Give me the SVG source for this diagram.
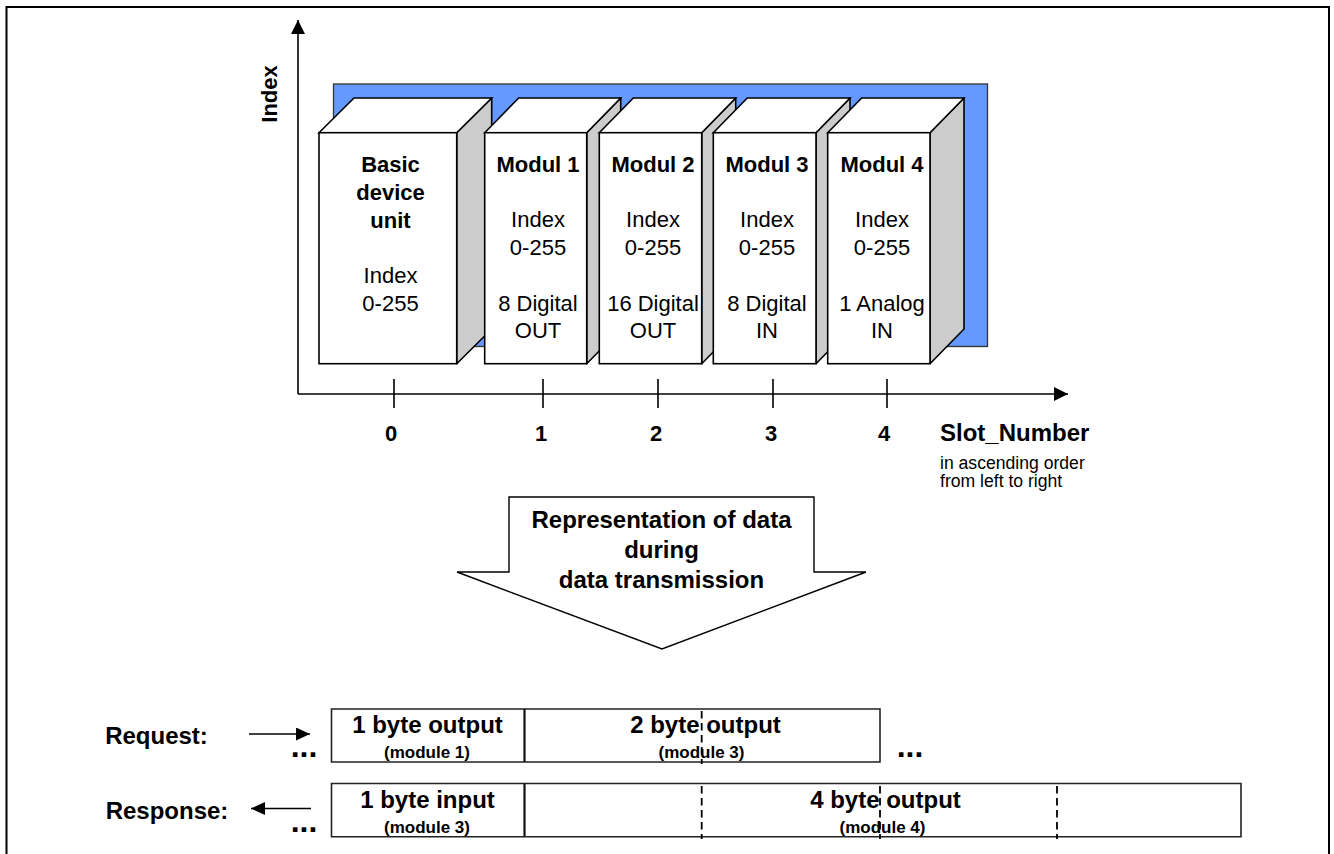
<svg xmlns="http://www.w3.org/2000/svg" width="1334" height="854" viewBox="0 0 1334 854">
<style>
text{font-family:"Liberation Sans",Arial,sans-serif;fill:#000;text-anchor:middle}
.b{font-weight:bold}
.t{font-size:22px}
.h{font-size:24px;font-weight:bold}
.x{font-size:17px;font-weight:bold}
.d{font-size:22px;font-weight:bold}
.dots{font-size:32px;font-weight:bold}
.front{fill:#fff;stroke:#000;stroke-width:1.6}
.side{fill:#ccc;stroke:#000;stroke-width:1.6;stroke-linejoin:round}
.ln{fill:none;stroke:#000;stroke-width:1.6}
.cell{fill:#fff;stroke:#222;stroke-width:1.6}
.div{stroke:#111;stroke-width:2.2;fill:none}
.dash{stroke:#000;stroke-width:1.8;stroke-dasharray:7.500 4.500;fill:none}
</style>
<defs>
<marker id="ah" markerUnits="userSpaceOnUse" markerWidth="16" markerHeight="16" refX="14" refY="7" orient="auto"><path d="M0 0L14 7L0 14Z" fill="#000"/></marker>
<marker id="sh" markerUnits="userSpaceOnUse" markerWidth="15" markerHeight="14" refX="14" refY="6.500" orient="auto"><path d="M0 0L14 6.500L0 13Z" fill="#000"/></marker>
</defs>
<rect id="frame" x="6.500" y="7" width="1322.500" height="860" fill="#fff" stroke="#000" stroke-width="2"/>
<rect id="backplane" x="333.500" y="84" width="654" height="262.500" fill="#6699ff" stroke="#333" stroke-width="1.300"/>
<g id="connectors">
<path class="ln" d="M298 394V20" marker-end="url(#ah)"/>
<path class="ln" d="M298 394H1068" marker-end="url(#ah)"/>
<path class="ln" d="M394 379V408M543 379V408M658 379V408M773 379V408M887 379V408"/>
<path class="ln" d="M249 734H310" marker-end="url(#sh)"/>
<path class="ln" d="M311 808.500H251" marker-end="url(#sh)"/>
</g>
<g id="axis-labels">
<text class="d" transform="translate(276.500 94) rotate(-90)">Index</text>
<text class="d" x="391" y="441">0</text>
<text class="d" x="541" y="441">1</text>
<text class="d" x="656" y="441">2</text>
<text class="d" x="771" y="441">3</text>
<text class="d" x="884" y="441">4</text>
<text class="h" x="940" y="441" style="text-anchor:start">Slot_Number</text>
<text x="940" y="469" font-size="17.600" style="text-anchor:start">in ascending order</text>
<text x="940" y="487" font-size="17.600" style="text-anchor:start">from left to right</text>
</g>
<g id="basic">
<path class="side" d="M456.700 132.700L491.700 98V329L456.700 363.700Z"/>
<path class="front" d="M319 132.700L354 98H491.700L456.700 132.700Z"/>
<rect class="front" x="319" y="132.700" width="137.700" height="231"/>
<text class="t b" x="390.500" y="172">Basic</text><text class="t b" x="390.500" y="200">device</text><text class="t b" x="390.500" y="228">unit</text>
<text class="t" x="390.500" y="283">Index</text><text class="t" x="390.500" y="311">0-255</text>
</g>
<g id="modul1">
<path class="side" d="M586.700 132.700L620.700 98V329L586.700 363.700Z"/>
<path class="front" d="M484.700 132.700L518.700 98H620.700L586.700 132.700Z"/>
<rect class="front" x="484.700" y="132.700" width="102" height="231"/>
<text class="t b" x="538" y="172">Modul 1</text>
<text class="t" x="538" y="227">Index</text><text class="t" x="538" y="255">0-255</text>
<text class="t" x="538" y="311">8 Digital</text><text class="t" x="538" y="338">OUT</text>
</g>
<g id="modul2">
<path class="side" d="M701.700 132.700L735.700 98V329L701.700 363.700Z"/>
<path class="front" d="M599.300 132.700L633.300 98H735.700L701.700 132.700Z"/>
<rect class="front" x="599.300" y="132.700" width="102.400" height="231"/>
<text class="t b" x="653" y="172">Modul 2</text>
<text class="t" x="653" y="227">Index</text><text class="t" x="653" y="255">0-255</text>
<text class="t" x="653" y="311">16 Digital</text><text class="t" x="653" y="338">OUT</text>
</g>
<g id="modul3">
<path class="side" d="M816 132.700L850 98V329L816 363.700Z"/>
<path class="front" d="M713.300 132.700L747.300 98H850L816 132.700Z"/>
<rect class="front" x="713.300" y="132.700" width="102.700" height="231"/>
<text class="t b" x="767" y="172">Modul 3</text>
<text class="t" x="767" y="227">Index</text><text class="t" x="767" y="255">0-255</text>
<text class="t" x="767" y="311">8 Digital</text><text class="t" x="767" y="338">IN</text>
</g>
<g id="modul4">
<path class="side" d="M930 132.700L964 98V329L930 363.700Z"/>
<path class="front" d="M827.700 132.700L861.700 98H964L930 132.700Z"/>
<rect class="front" x="827.700" y="132.700" width="102.300" height="231"/>
<text class="t b" x="882" y="172">Modul 4</text>
<text class="t" x="882" y="227">Index</text><text class="t" x="882" y="255">0-255</text>
<text class="t" x="882" y="311">1 Analog</text><text class="t" x="882" y="338">IN</text>
</g>
<g id="big-arrow">
<path d="M509 497H814V572H866L662 649L457 572H509Z" fill="#fff" stroke="#000" stroke-width="1.400"/>
<text class="h" x="661.500" y="528">Representation of data</text>
<text class="h" x="661.500" y="558">during</text>
<text class="h" x="661.500" y="588">data transmission</text>
</g>
<g id="request">
<text class="h" x="156.500" y="744">Request:</text>
<path class="cell" d="M331.500 709H880V762H331.500Z"/>
<path class="div" d="M524.500 709V762"/>
<path class="dash" d="M701.700 711V764"/>
<text class="h" x="427.500" y="733">1 byte output</text>
<text class="x" x="427" y="758">(module 1)</text>
<text class="h" x="705.500" y="733">2 byte output</text>
<text class="x" x="701.500" y="758">(module 3)</text>
<text class="dots" x="304" y="757">...</text>
<text class="dots" x="910" y="757">...</text>
</g>
<g id="response">
<text class="h" x="167" y="819">Response:</text>
<path class="cell" d="M331.500 783.500H1241V836.700H331.500Z"/>
<path class="div" d="M524.500 783.500V836.700"/>
<path class="dash" d="M701.700 786V839M880 786V839M1057 786V839"/>
<text class="h" x="427.500" y="808">1 byte input</text>
<text class="x" x="427" y="833">(module 3)</text>
<text class="h" x="885.500" y="808">4 byte output</text>
<text class="x" x="882.500" y="833">(module 4)</text>
<text class="dots" x="304" y="832">...</text>
</g>
</svg>
